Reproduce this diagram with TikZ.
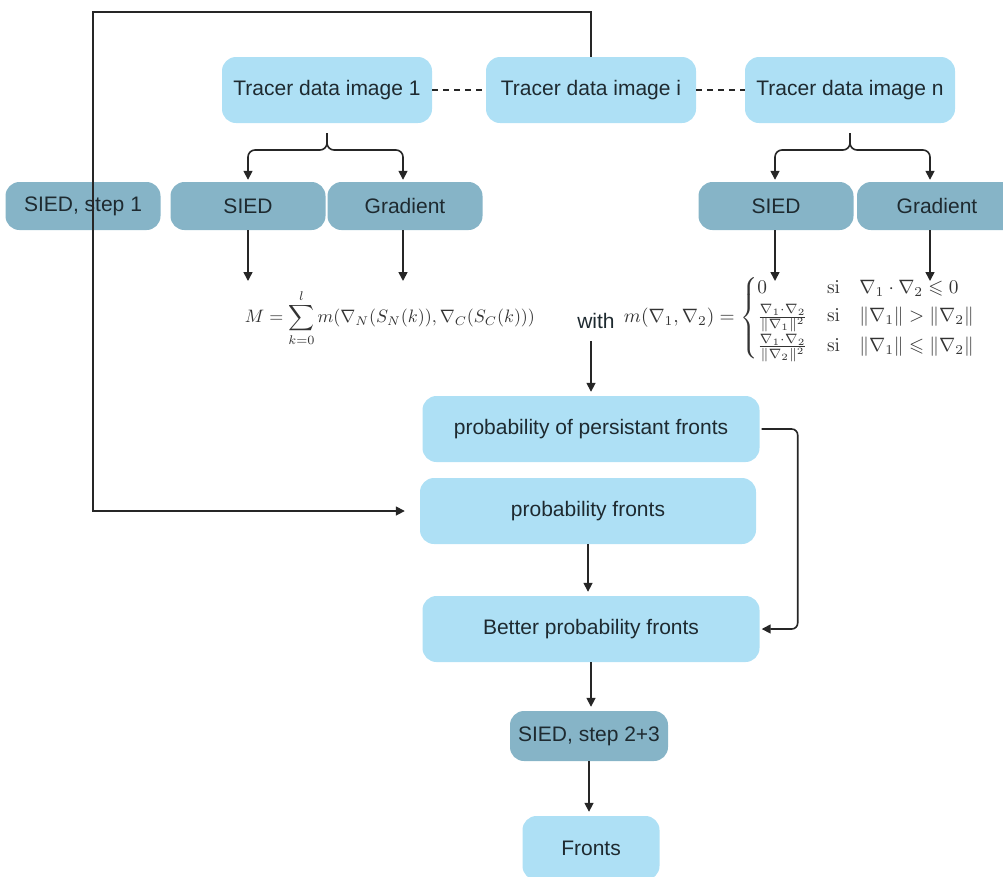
\documentclass[tikz,border=0pt]{standalone}
\usepackage{amsmath,amssymb}
\usepackage[no-math]{fontspec}
\newfontfamily\robo{Liberation Sans}
\usetikzlibrary{arrows.meta,calc}
\definecolor{lightbox}{HTML}{AEE0F5}
\definecolor{darkbox}{HTML}{86B4C7}
\definecolor{txt}{HTML}{1E2A30}
\definecolor{mathcol}{HTML}{333333}
\tikzset{
  lbox/.style={fill=lightbox, rounded corners=14pt, text=txt, font=\robo\fontsize{21}{25}\selectfont, inner sep=0pt, minimum height=66pt},
  dbox/.style={fill=darkbox, rounded corners=14pt, text=txt, font=\robo\fontsize{21}{25}\selectfont, inner sep=0pt, minimum height=48pt},
  conn/.style={draw=black!85, line width=1.6pt},
  arr/.style={conn, -{Triangle[width=9pt,length=9pt]}},
  dashconn/.style={draw=black!85, line width=1.4pt, dash pattern=on 6pt off 5pt},
  mathnode/.style={text=mathcol, inner sep=0pt}
}
\begin{document}
\begin{tikzpicture}[x=1pt,y=-1pt]
\useasboundingbox (0,0) rectangle (1003,876);
% top tracer boxes
\node[lbox, minimum width=210pt] (t1) at (327,90) {Tracer data image 1};
\node[lbox, minimum width=210pt] (ti) at (591,90) {Tracer data image i};
\node[lbox, minimum width=210pt] (tn) at (850,90) {Tracer data image n};
\draw[dashconn] (t1.east) -- (ti.west);
\draw[dashconn] (ti.east) -- (tn.west);
% second row
\node[dbox, minimum width=155pt] (s0) at (83,206) {SIED, step 1};
\node[dbox, minimum width=155pt] (s1) at (248,206) {SIED};
\node[dbox, minimum width=155pt] (g1) at (405,206) {Gradient};
\node[dbox, minimum width=155pt] (s2) at (776,206) {SIED};
\node[dbox, minimum width=160pt] (g2) at (937,206) {Gradient};
% anchor points for the arrows
\coordinate (g1n) at ($(g1.north)+(-2,0)$);
\coordinate (g1s) at ($(g1.south)+(-2,0)$);
\coordinate (s2n) at ($(s2.north)+(-1,0)$);
\coordinate (s2s) at ($(s2.south)+(-1,0)$);
\coordinate (g2n) at ($(g2.north)+(-7,0)$);
\coordinate (g2s) at ($(g2.south)+(-7,0)$);
% braces
\draw[arr, rounded corners=7pt, shorten <=10pt, shorten >=2pt] (t1.south) -- (t1.south |- 0,150) -- (s1.north |- 0,150) -- (s1.north);
\draw[arr, rounded corners=7pt, shorten <=10pt, shorten >=2pt] (t1.south) -- (t1.south |- 0,150) -- (g1n |- 0,150) -- (g1n);
\draw[arr, rounded corners=7pt, shorten <=10pt, shorten >=2pt] (tn.south) -- (tn.south |- 0,150) -- (s2n |- 0,150) -- (s2n);
\draw[arr, rounded corners=7pt, shorten <=10pt, shorten >=2pt] (tn.south) -- (tn.south |- 0,150) -- (g2n |- 0,150) -- (g2n);
% formulas
\node[mathnode] (M) at (390,318) {\resizebox{290pt}{!}{$\displaystyle M=\sum_{k=0}^{l} m(\nabla_N(S_N(k)),\nabla_C(S_C(k)))$}};
\node[text=txt, font=\robo\fontsize{21}{25}\selectfont, inner sep=0pt] (with) at (596,321) {with};
\node[mathnode] (mf) at (800,318) {\resizebox{352pt}{!}{$m(\nabla_1,\nabla_2)=\begin{cases}0 & \mathrm{si}\quad \nabla_1\cdot\nabla_2\leqslant 0\\ \tfrac{\nabla_1\cdot\nabla_2}{\|\nabla_1\|^2} & \mathrm{si}\quad \|\nabla_1\|>\|\nabla_2\|\\ \tfrac{\nabla_1\cdot\nabla_2}{\|\nabla_2\|^2} & \mathrm{si}\quad \|\nabla_1\|\leqslant\|\nabla_2\|\end{cases}$}};
\draw[arr] (s1.south) -- (s1.south |- 0,281);
\draw[arr] (g1s) -- (g1s |- 0,281);
\draw[arr] (s2s) -- (s2s |- 0,281);
\draw[arr] (g2s) -- (g2s |- 0,281);
% lower column
\node[lbox, minimum width=337pt] (pp) at (591,429) {probability of persistant fronts};
\node[lbox, minimum width=336pt] (pf) at (588,511) {probability fronts};
\node[lbox, minimum width=337pt] (bp) at (591,629) {Better probability fronts};
\node[dbox, minimum width=158pt, minimum height=50pt] (s3) at (589,736) {SIED, step 2+3};
\node[lbox, minimum width=137pt, minimum height=64pt] (fr) at (591,848) {Fronts};
\draw[arr, shorten <=12pt, shorten >=4pt] (with.south -| pp.north) -- (pp.north);
\draw[arr, shorten >=4pt] (pf.south) -- (pf.south |- bp.north);
\draw[arr, shorten >=4pt] (bp.south) -- (bp.south |- s3.north);
\draw[arr, shorten >=4pt] (s3.south) -- (s3.south |- fr.north);
\draw[arr, rounded corners=6pt, shorten <=2pt, shorten >=2pt] (pp.east) -- ++(38,0) |- (bp.east);
% loop from image i
\draw[arr, shorten >=15pt] (ti.north) |- (93,12) |- (pf.west);
\end{tikzpicture}
\end{document}
